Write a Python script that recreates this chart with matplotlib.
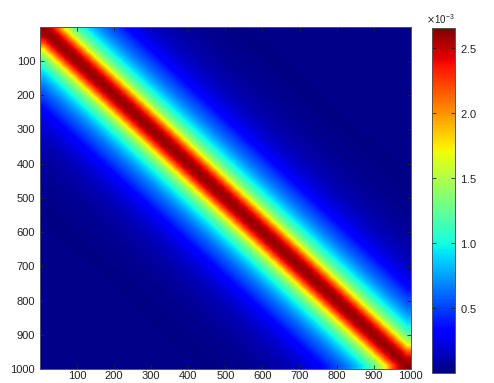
import numpy as np
import matplotlib
matplotlib.use("Agg")
import matplotlib.pyplot as plt
from matplotlib.ticker import ScalarFormatter

# kernel value vs distance from the diagonal, step 20 index units
offset_step = 20
profile = [2.62, 2.52, 2.18, 1.68, 1.36, 1.13, 0.95, 0.80, 0.67, 0.57,
           0.49, 0.38, 0.30, 0.24, 0.20, 0.16, 0.13, 0.11, 0.09, 0.075,
           0.06, 0.05, 0.04, 0.035, 0.03, 0.02, 0.015, 0.015, 0.02, 0.025,
           0.025, 0.025, 0.025, 0.025, 0.025, 0.025, 0.025, 0.025, 0.025, 0.025,
           0.025, 0.025, 0.025, 0.025, 0.025, 0.025, 0.025, 0.025, 0.025, 0.025]
scale = 1e-3
n_size = 1000
ticks = [100, 200, 300, 400, 500, 600, 700, 800, 900, 1000]
cbar_ticks = [0.5e-3, 1.0e-3, 1.5e-3, 2.0e-3, 2.5e-3]
vmin, vmax = 0.0, 2.65e-3

prof = np.array(profile) * scale
idx = np.arange(len(profile))
mat = prof[np.abs(idx[:, None] - idx[None, :])]

plt.rcParams['font.family'] = ['Liberation Sans', 'DejaVu Sans']

fig = plt.figure(figsize=(4.94, 3.83), dpi=100)
ax = fig.add_axes([0.081, 0.036, 0.751, 0.894])
cax = fig.add_axes([0.8745, 0.026, 0.0466, 0.9008])

im = ax.imshow(mat, cmap='jet', vmin=vmin, vmax=vmax, aspect='auto',
               interpolation='bilinear',
               extent=[0.5, n_size + 0.5, n_size + 0.5, 0.5])
ax.set_xticks(ticks)
ax.set_yticks(ticks)
ax.tick_params(direction='in', top=True, right=True, length=3,
               labelsize=8, colors='#222222', width=0.6)
ax.tick_params(axis='x', pad=1)
for s in ax.spines.values():
    s.set_color('#555555')
    s.set_linewidth(0.7)

cb = fig.colorbar(im, cax=cax)
fmt = ScalarFormatter(useMathText=True)
fmt.set_powerlimits((-2, 2))
cb.formatter = fmt
cb.set_ticks(cbar_ticks)
cb.update_ticks()
cax.tick_params(direction='in', left=True, right=True, length=3,
                labelsize=8, colors='#222222', width=0.6)
cax.yaxis.get_offset_text().set_fontsize(7)
cb.outline.set_edgecolor('#555555')
cb.outline.set_linewidth(0.7)

plt.savefig("out.png", dpi=100)
